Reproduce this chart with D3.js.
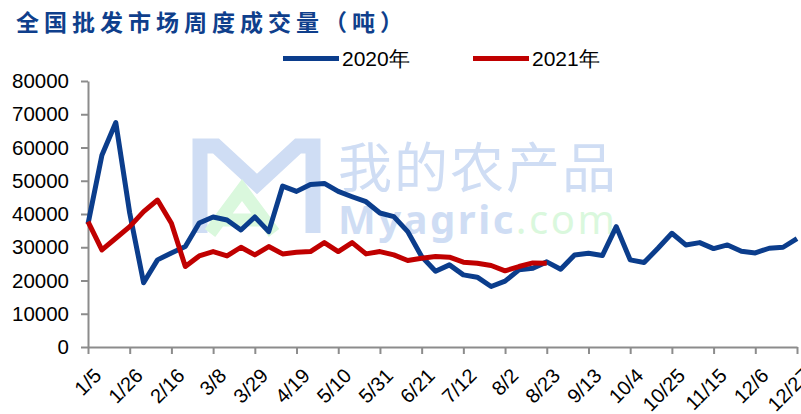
<!DOCTYPE html>
<html>
<head>
<meta charset="utf-8">
<script src="https://cdn.jsdelivr.net/npm/d3@7"></script>
<style>
  body { margin: 0; background: #fff; }
  svg { display: block; }
</style>
</head>
<body>
<svg id="chart" width="801" height="414"></svg>
<script>
// weekly categories (2020 weeks)
const weeks = ["1/5","1/12","1/19","1/26","2/2","2/9","2/16","2/23","3/1","3/8","3/15","3/22","3/29",
  "4/5","4/12","4/19","4/26","5/3","5/10","5/17","5/24","5/31","6/7","6/14","6/21","6/28",
  "7/5","7/12","7/19","7/26","8/2","8/9","8/16","8/23","8/30","9/6","9/13","9/20","9/27",
  "10/4","10/11","10/18","10/25","11/1","11/8","11/15","11/22","11/29","12/6","12/13","12/20","12/27"];

const values2020 = [37000,57700,67500,40300,19300,26200,28300,30200,37300,39100,38200,35200,39100,
  34700,48400,46800,48900,49200,46800,45200,43700,40300,39200,34700,27200,22800,
  24700,21700,21000,18200,19800,23200,23700,25600,23400,27700,28200,27500,36200,
  26200,25400,29700,34200,30700,31400,29600,30700,28800,28300,29700,30000,32600];

const values2021 = [37700,29200,32700,36200,40700,44200,37200,24200,27400,28700,27400,30000,27700,
  30200,28000,28500,28700,31400,28700,31400,28000,28700,27700,26000,26700,27200,
  27000,25500,25200,24500,22900,24200,25300,25200];

const yTicks = [0,10000,20000,30000,40000,50000,60000,70000,80000];
const seriesNames = ["2020年","2021年"];
const seriesColors = ["#0b3d8c","#c00000"];
const title = "全国批发市场周度成交量（吨）";

const svg = d3.select("#chart");
const x = d3.scalePoint().domain(weeks).range([88, 797]);
const y = d3.scaleLinear().domain([0, 80000]).range([347, 81]);

// title
svg.append("text").attr("x", 16).attr("y", 31)
  .style("font-family", "Noto Sans CJK SC").style("font-weight", "bold")
  .style("font-size", "23px").style("letter-spacing", "5px")
  .attr("fill", "#0f3f8c").text(title);

// watermark
const wm = svg.append("g").attr("class", "watermark");
wm.append("path").attr("d", "M200,233 L200,146 L216,146 L257,184 L298,146 L313,146 L313,233")
  .attr("fill", "none").attr("stroke", "#cfddf4").attr("stroke-width", 15).attr("stroke-linejoin", "miter");
wm.append("path").attr("d", "M210,233 L242,190 L274,233 M222,220 L262,220")
  .attr("fill", "none").attr("stroke", "#daf8dd").attr("stroke-width", 13);
wm.append("text").attr("x", 338).attr("y", 188)
  .style("font-family", "Noto Sans CJK SC").style("font-size", "54px").style("letter-spacing", "2px")
  .attr("fill", "#cfddf4").text("我的农产品");
wm.append("text").attr("x", 338).attr("y", 234)
  .style("font-family", "Noto Sans").style("font-weight", "bold").style("font-size", "40px")
  .style("letter-spacing", "2.5px")
  .attr("fill", "#cfddf4").text("Myagric")
  .append("tspan").attr("fill", "#daf8dd").style("font-weight", "normal").text(".com");

// axes
const gx = svg.append("g").attr("transform", "translate(0,347)")
  .call(d3.axisBottom(x).tickValues(weeks.filter((d, i) => i % 3 === 0)).tickSize(7).tickSizeOuter(0));
gx.select(".domain").attr("stroke", "#8c8c8c").attr("stroke-width", 2);
gx.selectAll(".tick line").attr("stroke", "#8c8c8c").attr("stroke-width", 2);
gx.selectAll(".tick text")
  .style("font-family", "Liberation Sans").style("font-size", "20px").attr("fill", "#000")
  .attr("text-anchor", "end").attr("dy", null).attr("y", 0)
  .attr("transform", "translate(14,30) rotate(-45)");

const gy = svg.append("g").attr("transform", "translate(88,0)")
  .call(d3.axisLeft(y).tickValues(yTicks).tickFormat(d3.format("d")).tickSize(7).tickSizeOuter(0).tickPadding(12));
gy.select(".domain").attr("stroke", "#8c8c8c").attr("stroke-width", 2);
gy.selectAll(".tick line").attr("stroke", "#8c8c8c").attr("stroke-width", 2);
gy.selectAll(".tick text")
  .style("font-family", "Liberation Sans").style("font-size", "20.5px").attr("fill", "#000");

// lines
const line = d3.line().x((d, i) => x(weeks[i])).y(d => y(d));
[values2020, values2021].forEach((vals, k) => {
  svg.append("path").datum(vals)
    .attr("fill", "none").attr("stroke", seriesColors[k]).attr("stroke-width", 5)
    .attr("stroke-linejoin", "round").attr("d", line);
});

// legend
const legendX = [283, 473];
seriesNames.forEach((name, k) => {
  const g = svg.append("g").attr("transform", `translate(${legendX[k]},58.5)`);
  g.append("line").attr("x1", 0).attr("x2", 56).attr("y1", 0).attr("y2", 0)
    .attr("stroke", seriesColors[k]).attr("stroke-width", 5);
  g.append("text").attr("x", 59).attr("y", 7.5)
    .style("font-family", "Liberation Sans").style("font-size", "21px").attr("fill", "#000").text(name);
});
</script>
</body>
</html>
